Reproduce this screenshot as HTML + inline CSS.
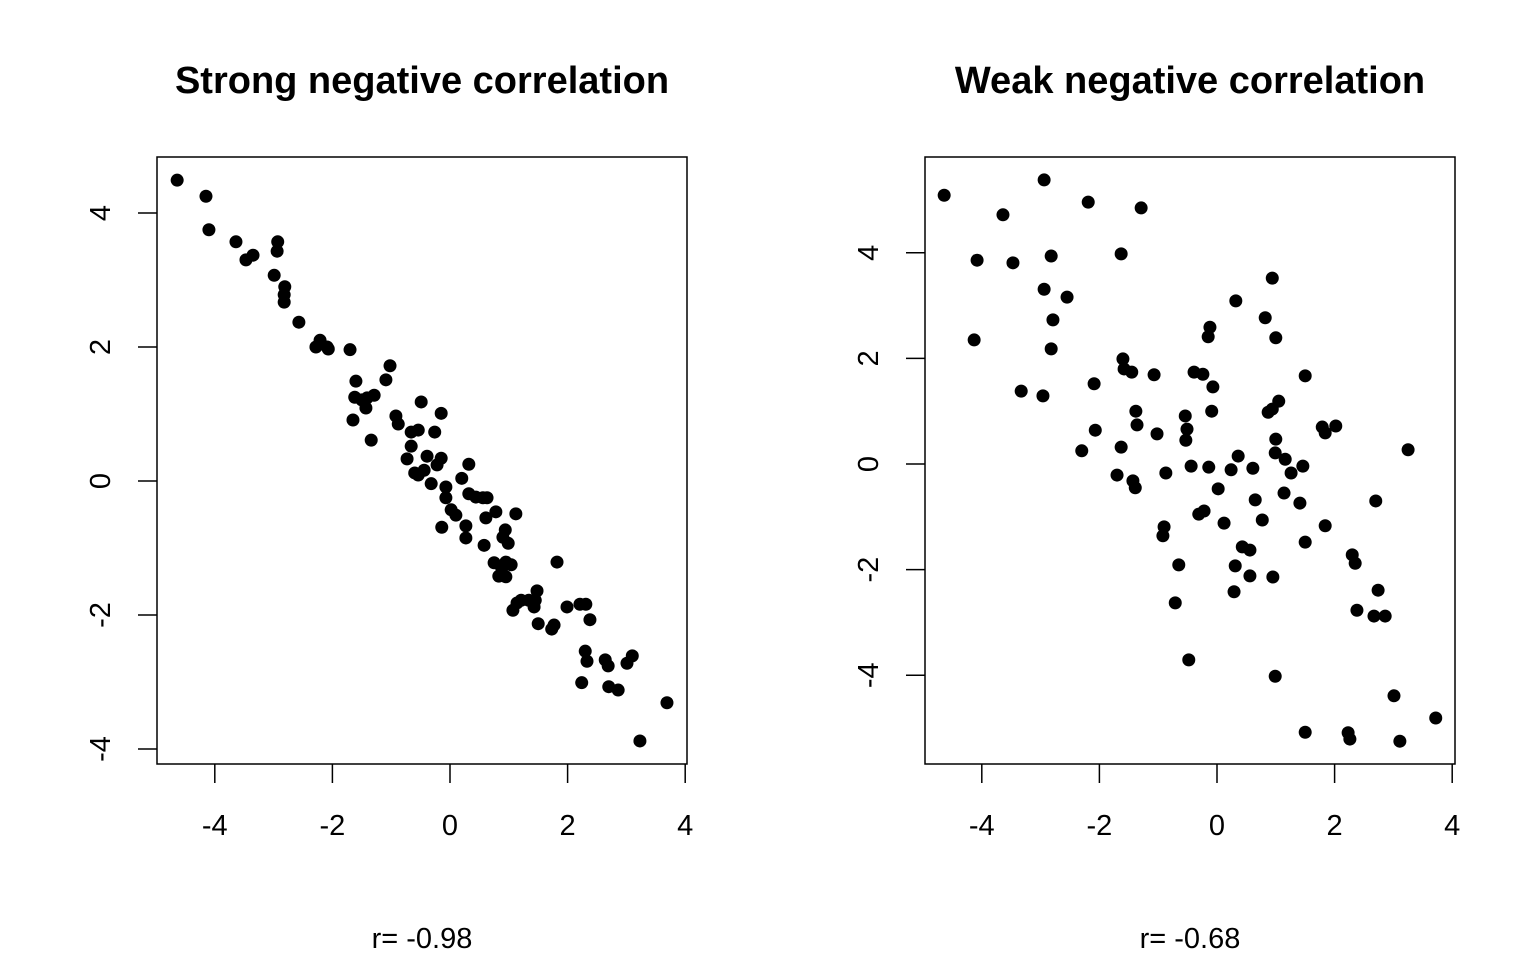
<!DOCTYPE html>
<html><head><meta charset="utf-8"><style>
html,body{margin:0;padding:0;background:#fff;}
svg text{font-family:"Liberation Sans",Arial,sans-serif;fill:#000;}
</style></head><body>
<svg id="chart" width="1536" height="960" viewBox="0 0 1536 960" xmlns="http://www.w3.org/2000/svg"></svg>
<script>
const xStrong=[-4.64,-4.15,-4.10,-3.64,-3.47,-3.35,-2.93,-2.94,-2.99,-2.81,-2.82,-2.82,-2.57,-2.28,-2.21,-2.09,-2.07,-1.70,-1.60,-1.62,-1.65,-1.50,-1.43,-1.41,-1.29,-1.34,-1.09,-1.02,-0.92,-0.88,-0.73,-0.66,-0.66,-0.60,-0.54,-0.54,-0.49,-0.44,-0.39,-0.32,-0.26,-0.22,-0.15,-0.15,-0.14,-0.07,-0.07,0.02,0.10,0.20,0.27,0.32,0.27,0.32,0.44,0.56,0.58,0.61,0.63,0.75,0.78,0.83,0.88,0.90,0.94,0.95,0.95,0.99,1.04,1.07,1.12,1.14,1.21,1.34,1.45,1.48,1.50,1.43,1.73,1.82,1.77,1.99,2.21,2.31,2.38,2.30,2.33,2.24,2.64,2.69,2.70,2.86,3.01,3.10,3.69,3.23];
const yStrong=[4.49,4.25,3.75,3.57,3.30,3.37,3.57,3.43,3.07,2.90,2.78,2.67,2.37,2.00,2.10,2.00,1.97,1.96,1.49,1.25,0.91,1.21,1.09,1.24,1.28,0.61,1.51,1.72,0.97,0.85,0.33,0.52,0.73,0.12,0.09,0.76,1.18,0.16,0.37,-0.04,0.73,0.24,1.01,0.34,-0.69,-0.09,-0.25,-0.43,-0.51,0.04,-0.67,0.25,-0.85,-0.19,-0.24,-0.25,-0.96,-0.55,-0.25,-1.22,-0.46,-1.42,-1.30,-0.84,-0.73,-1.21,-1.43,-0.93,-1.25,-1.93,-0.49,-1.82,-1.78,-1.78,-1.78,-1.64,-2.13,-1.88,-2.21,-1.21,-2.15,-1.88,-1.84,-1.84,-2.07,-2.54,-2.69,-3.01,-2.67,-2.76,-3.07,-3.12,-2.72,-2.61,-3.31,-3.88];
const xWeak=[-4.64,-4.08,-4.13,-3.64,-3.47,-3.33,-2.94,-2.82,-2.94,-2.79,-2.82,-2.96,-2.55,-2.19,-2.09,-2.07,-2.30,-1.63,-1.29,-1.60,-1.58,-1.45,-1.38,-1.36,-1.63,-1.70,-1.43,-1.39,-1.07,-1.02,-0.87,-0.90,-0.92,-0.65,-0.71,-0.54,-0.51,-0.53,-0.44,-0.48,-0.39,-0.24,-0.31,-0.22,-0.14,-0.15,-0.12,-0.09,-0.07,0.02,0.12,0.24,0.32,0.31,0.29,0.36,0.43,0.56,0.56,0.61,0.65,0.77,0.82,0.87,0.94,0.94,0.95,0.99,0.99,1.00,1.05,1.00,1.16,1.14,1.26,1.41,1.46,1.50,1.50,1.50,1.79,1.84,1.84,2.02,2.30,2.35,2.38,2.67,2.70,2.74,2.86,3.01,3.25,3.72,2.23,2.26,3.11];
const yWeak=[5.09,3.86,2.35,4.72,3.81,1.38,5.38,3.94,3.31,2.73,2.18,1.29,3.16,4.96,1.52,0.64,0.25,3.98,4.85,1.99,1.80,1.74,1.00,0.74,0.32,-0.21,-0.32,-0.45,1.69,0.57,-0.17,-1.19,-1.36,-1.91,-2.63,0.91,0.66,0.45,-0.04,-3.71,1.74,1.70,-0.95,-0.89,-0.06,2.41,2.59,1.00,1.46,-0.47,-1.12,-0.11,3.09,-1.93,-2.42,0.15,-1.57,-1.63,-2.12,-0.08,-0.68,-1.06,2.77,0.98,3.52,1.04,-2.14,0.21,-4.02,2.39,1.19,0.47,0.09,-0.55,-0.17,-0.74,-0.04,1.67,-1.48,-5.08,0.70,0.59,-1.17,0.72,-1.72,-1.88,-2.77,-2.88,-0.70,-2.39,-2.88,-4.39,0.27,-4.81,-5.09,-5.21,-5.25];
const xTicks=[-4,-2,0,2,4];
const yTicksStrong=[-4,-2,0,2,4];
const yTicksWeak=[-4,-2,0,2,4];
const titles=["Strong negative correlation","Weak negative correlation"];
const rLabels=["r= -0.98","r= -0.68"];

const NS="http://www.w3.org/2000/svg";
const svg=document.getElementById('chart');
function mk(tag,attrs,parent){const e=document.createElementNS(NS,tag);for(const k in attrs)e.setAttribute(k,attrs[k]);(parent||svg).appendChild(e);return e;}

function panel(idx,box,x0,xs,y0,ys,xd,yd,yt){
  const g=mk('g',{});
  
  
  const sx=v=>x0+v*xs, sy=v=>y0-v*ys;
  const r=mk('rect',{x:box[0],y:box[1],width:box[2]-box[0],height:box[3]-box[1],fill:'none',stroke:'#000','stroke-width':1.5},g);
  
  
  const t=mk('text',{x:(box[0]+box[2])/2,y:93,'text-anchor':'middle','font-size':38,'font-weight':'bold'},g);
  t.textContent=titles[idx];
  
  
  const rl=mk('text',{x:(box[0]+box[2])/2,y:948,'text-anchor':'middle','font-size':29},g);
  rl.textContent=rLabels[idx];
  
  
  xTicks.forEach(v=>{
    const x=sx(v);
    const l=mk('line',{x1:x,x2:x,y1:box[3],y2:box[3]+19,stroke:'#000','stroke-width':1.5},g);
    
    
    const tx=mk('text',{x:x,y:835,'text-anchor':'middle','font-size':29},g);
    tx.textContent=v;
    
    
  });
  yt.forEach(v=>{
    const y=sy(v);
    const l=mk('line',{x1:box[0]-19,x2:box[0],y1:y,y2:y,stroke:'#000','stroke-width':1.5},g);
    
    
    const cx=box[0]-57;
    const tx=mk('text',{x:cx,y:y+10,'text-anchor':'middle','font-size':29,transform:`rotate(-90 ${cx} ${y})`},g);
    tx.textContent=v;
    
    
  });
  xd.forEach((v,i)=>{
    const c=mk('circle',{cx:sx(v),cy:sy(yd[i]),r:6.5,fill:'#000'},g);
    
    
  });
}
panel(0,[157,157,687,764],450,58.8,481,67,xStrong,yStrong,yTicksStrong);
panel(1,[925,157,1455,764],1217,58.8,464,52.8,xWeak,yWeak,yTicksWeak);
</script>
</body></html>
